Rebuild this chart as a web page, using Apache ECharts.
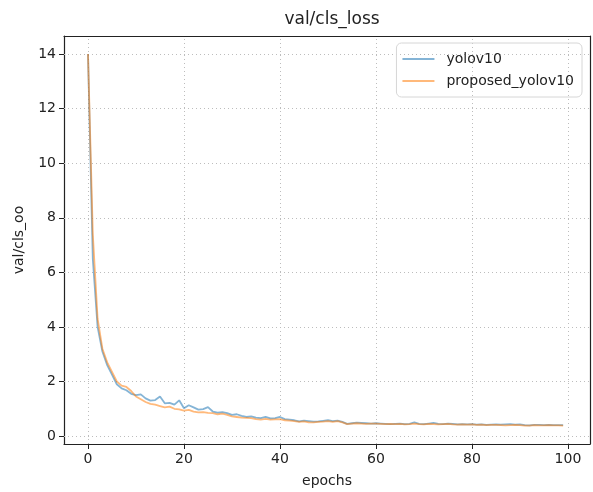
<!DOCTYPE html>
<html>
<head>
<meta charset="utf-8">
<script src="https://cdn.jsdelivr.net/npm/echarts@6/dist/echarts.min.js"></script>
<style>
  html, body { margin: 0; padding: 0; background: #fff; }
  #chart { width: 593px; height: 492px; }
</style>
</head>
<body>
<div id="chart"></div>
<script>
const epochs = Array.from({ length: 100 }, (_, i) => i);

const yolov10 = [
  14, 6.5, 4.0, 3.1, 2.6, 2.25, 1.9, 1.75, 1.68, 1.55,
  1.5, 1.53, 1.38, 1.3, 1.32, 1.45, 1.2, 1.22, 1.15, 1.31,
  1.02, 1.13, 1.05, 0.97, 0.99, 1.06, 0.9, 0.86, 0.88, 0.84,
  0.78, 0.8, 0.74, 0.7, 0.72, 0.68, 0.66, 0.7, 0.65, 0.66,
  0.7, 0.62, 0.6, 0.58, 0.54, 0.57, 0.55, 0.53, 0.54, 0.56,
  0.58, 0.55, 0.57, 0.52, 0.45, 0.47, 0.49, 0.48, 0.47, 0.46,
  0.47, 0.46, 0.45, 0.44, 0.45, 0.46, 0.44, 0.45, 0.5, 0.45,
  0.44, 0.46, 0.48, 0.45, 0.44, 0.46, 0.45, 0.43, 0.44, 0.43,
  0.44, 0.42, 0.43, 0.41, 0.42, 0.43, 0.42, 0.43, 0.44, 0.42,
  0.43, 0.4, 0.39, 0.41, 0.41, 0.4, 0.41, 0.4, 0.4, 0.4
];

const proposedYolov10 = [
  14, 7.4, 4.3, 3.2, 2.7, 2.35, 2.0, 1.85, 1.8, 1.65,
  1.45, 1.35, 1.25, 1.18, 1.15, 1.1, 1.05, 1.08, 1.0, 0.98,
  0.93, 0.96, 0.9, 0.87, 0.88, 0.85, 0.84, 0.8, 0.82, 0.78,
  0.72, 0.7, 0.68, 0.67, 0.66, 0.62, 0.6, 0.63, 0.6, 0.61,
  0.62, 0.58, 0.57, 0.55, 0.52, 0.54, 0.5, 0.5, 0.52, 0.53,
  0.55, 0.52, 0.55, 0.5, 0.44, 0.46, 0.47, 0.46, 0.45, 0.46,
  0.46, 0.45, 0.44, 0.45, 0.44, 0.45, 0.43, 0.44, 0.46, 0.44,
  0.43, 0.45, 0.44, 0.43, 0.44, 0.45, 0.43, 0.42, 0.43, 0.42,
  0.43, 0.41, 0.42, 0.4, 0.41, 0.41, 0.4, 0.39, 0.4, 0.41,
  0.4, 0.38, 0.38, 0.4, 0.39, 0.39, 0.4, 0.39, 0.39, 0.38
];

const xTicks = [0, 20, 40, 60, 80, 100];
const yTicks = [0, 2, 4, 6, 8, 10, 12, 14];

const font = "DejaVu Sans";
const ink = "#222";
const chart = echarts.init(document.getElementById("chart"));

const frameLine = { show: true, onZero: false, lineStyle: { color: ink, width: 1.2 } };
const gridStyle = { color: "#bdbdbd", type: [1, 3], width: 1 };

// dotted grid drawn at the tick values (splitLine ignores customValues)
const gridLines = xTicks.map((v) => ({ xAxis: v }))
  .concat(yTicks.map((v) => ({ yAxis: v })));

chart.setOption({
  animation: false,
  textStyle: { fontFamily: font },
  title: {
    text: "val/cls_loss",
    left: 327,
    textAlign: "center",
    top: 6,
    textStyle: { fontFamily: font, fontSize: 17, fontWeight: "normal", color: ink }
  },
  legend: {
    orient: "vertical",
    right: 11,
    top: 43,
    itemWidth: 32,
    itemHeight: 2,
    itemGap: 8,
    icon: "rect",
    padding: [9, 8, 9, 6],
    borderColor: "#d6d6d6",
    borderWidth: 1,
    borderRadius: 5,
    textStyle: { fontFamily: font, fontSize: 14, color: ink, padding: [0, 0, 0, 7] },
    data: ["yolov10", "proposed_yolov10"]
  },
  grid: { left: 64, right: 3, top: 36, bottom: 48, containLabel: false, outerBoundsMode: "none" },
  xAxis: [
    {
      type: "value",
      min: -5,
      max: 104.6,
      name: "epochs",
      nameLocation: "middle",
      nameGap: 30,
      nameTextStyle: { fontFamily: font, fontSize: 14, color: ink },
      axisLine: frameLine,
      axisTick: { show: true, length: 5, customValues: xTicks, lineStyle: { color: ink } },
      axisLabel: { customValues: xTicks, fontFamily: font, fontSize: 14, color: ink, margin: 8 },
      splitLine: { show: false }
    },
    {
      type: "value",
      position: "top",
      min: -5,
      max: 104.6,
      axisLine: frameLine,
      axisTick: { show: false },
      axisLabel: { show: false },
      splitLine: { show: false }
    }
  ],
  yAxis: [
    {
      type: "value",
      min: -0.29,
      max: 14.66,
      name: "val/cls_oo",
      nameLocation: "middle",
      nameGap: 38,
      nameRotate: 90,
      nameTextStyle: { fontFamily: font, fontSize: 14, color: ink },
      axisLine: frameLine,
      axisTick: { show: true, length: 5, customValues: yTicks, lineStyle: { color: ink } },
      axisLabel: { customValues: yTicks, fontFamily: font, fontSize: 14, color: ink, margin: 8 },
      splitLine: { show: false }
    },
    {
      type: "value",
      position: "right",
      min: -0.29,
      max: 14.66,
      axisLine: frameLine,
      axisTick: { show: false },
      axisLabel: { show: false },
      splitLine: { show: false }
    }
  ],
  series: [
    {
      name: "yolov10",
      type: "line",
      data: epochs.map((e, i) => [e, yolov10[i]]),
      showSymbol: false,
      z: 3,
      color: "rgba(31,119,180,0.55)",
      lineStyle: { width: 1.8, color: "rgba(31,119,180,0.55)" },
      markLine: {
        silent: true,
        symbol: "none",
        label: { show: false },
        lineStyle: gridStyle,
        z: 1,
        data: gridLines
      }
    },
    {
      name: "proposed_yolov10",
      type: "line",
      data: epochs.map((e, i) => [e, proposedYolov10[i]]),
      showSymbol: false,
      z: 4,
      color: "rgba(255,127,14,0.55)",
      lineStyle: { width: 1.8, color: "rgba(255,127,14,0.55)" }
    }
  ]
});
</script>
</body>
</html>
